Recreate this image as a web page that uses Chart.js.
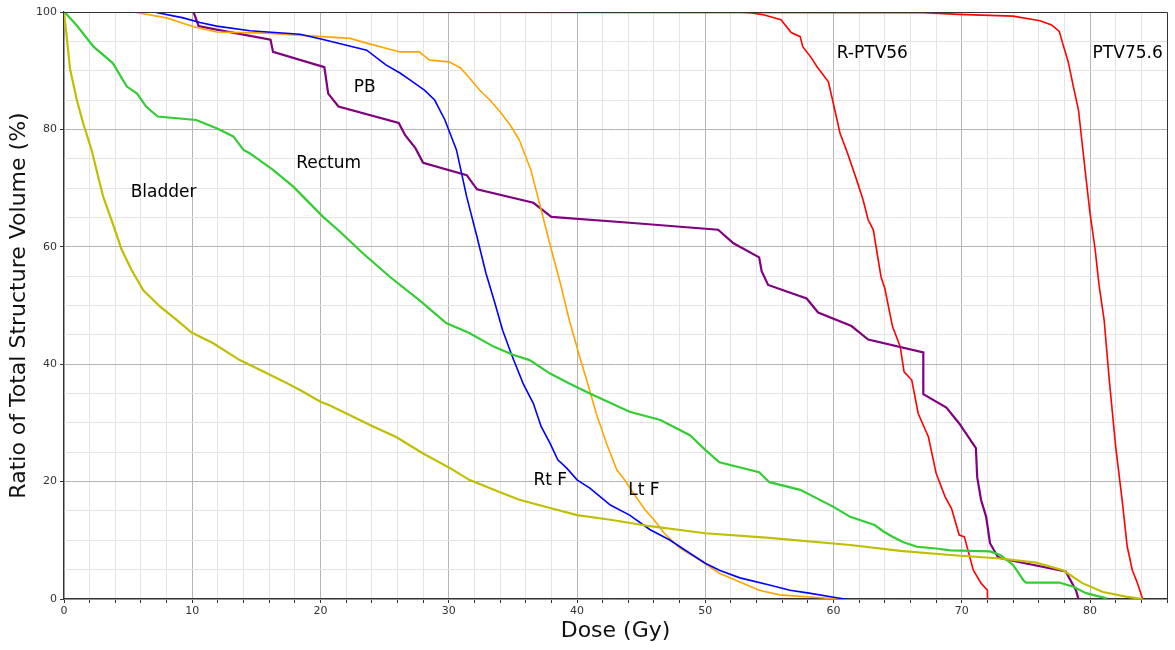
<!DOCTYPE html>
<html>
<head>
<meta charset="utf-8">
<script src="https://cdn.jsdelivr.net/npm/chart.js@4.4.1/dist/chart.umd.min.js"></script>
<style>
  body { margin: 0; background: #fff; }
  #wrap { width: 1175px; height: 650px; position: relative; }
</style>
</head>
<body>
<div id="wrap"><canvas id="dvh"></canvas></div>
<script>
// dose (Gy) / volume (%)
const bladderDose = [0, 0.2, 0.47, 1.0, 1.5, 2.15, 3.06, 3.7, 4.5, 5.28, 6.18, 7.5, 8.8, 9.95, 11.6, 13.7, 15.3, 17.0, 18.4, 20.0, 20.7, 22.3, 24.1, 25.9, 28.0, 30.1, 31.6, 34.0, 35.5, 37.9, 40.0, 42.6, 45.7, 50.0, 55.0, 61.3, 65.2, 69.1, 73.0, 75.8, 77.9, 79.4, 81.0, 82.8, 84.1];
const bladderVol  = [100, 96, 90.3, 85, 81, 76.5, 68.5, 64.6, 59.5, 56, 52.6, 49.8, 47.5, 45.4, 43.6, 40.7, 39, 37.2, 35.6, 33.6, 33, 31.3, 29.4, 27.6, 24.8, 22.3, 20.3, 18.2, 16.9, 15.5, 14.3, 13.5, 12.4, 11.2, 10.4, 9.2, 8.2, 7.5, 6.9, 6.2, 4.9, 2.7, 1.2, 0.4, 0];

const rectumDose = [0, 0.2, 1.0, 2.3, 3.8, 4.9, 5.7, 6.4, 7.3, 10.3, 11.9, 13.2, 14.0, 14.5, 16.3, 17.9, 20.2, 21.5, 23.3, 25.4, 27.7, 29.8, 31.6, 33.5, 35.0, 36.3, 37.9, 39.4, 41.0, 44.1, 46.5, 48.8, 50.0, 51.1, 54.2, 55.0, 57.4, 60.0, 61.3, 63.2, 63.9, 64.6, 65.4, 66.5, 68.0, 69.1, 72.2, 73.0, 74.0, 74.8, 75.0, 77.6, 78.7, 79.7, 81.3];
const rectumVol  = [100, 99.6, 97.7, 94.1, 91.3, 87.3, 86.1, 83.9, 82.2, 81.6, 80.2, 78.8, 76.5, 75.9, 73.1, 70.2, 65.1, 62.6, 58.9, 54.9, 50.9, 47, 45.3, 43, 41.6, 40.7, 38.4, 36.7, 35, 31.9, 30.5, 27.9, 25.4, 23.3, 21.6, 19.9, 18.6, 15.7, 14.0, 12.6, 11.5, 10.6, 9.7, 8.9, 8.6, 8.3, 8.1, 7.5, 5.8, 3.2, 2.8, 2.8, 2.1, 1.0, 0.1];

const rtFDose = [0, 7.0, 9.3, 10.6, 11.9, 14.5, 18.4, 20.2, 23.6, 25.1, 26.2, 27.0, 28.1, 28.9, 29.7, 30.6, 31.4, 32.2, 32.9, 33.6, 34.2, 34.9, 35.8, 36.6, 37.2, 37.9, 38.5, 39.2, 40.0, 41.0, 42.6, 44.1, 45.7, 47.2, 48.8, 50.0, 51.1, 52.7, 55.0, 56.6, 58.1, 60.0, 60.9];
const rtFVol  = [100, 100, 99, 98.2, 97.6, 96.8, 96.2, 95.3, 93.5, 91, 89.6, 88.4, 86.7, 85, 81.6, 76.5, 68.5, 61.7, 55.5, 50.4, 45.8, 41.6, 36.7, 33.3, 29.4, 26.5, 23.7, 22.3, 20.3, 18.9, 16, 14.3, 11.8, 10.1, 7.8, 6.1, 4.9, 3.6, 2.4, 1.5, 1.0, 0.3, 0];

const ltFDose = [0, 5.4, 8.0, 10.1, 11.9, 15.8, 22.3, 23.6, 26.2, 27.7, 28.5, 30.0, 30.9, 31.6, 32.4, 33.2, 34.0, 34.8, 35.5, 35.8, 36.4, 37.2, 38.0, 38.7, 39.4, 40.2, 40.9, 41.5, 42.3, 43.1, 43.7, 44.5, 45.3, 46.0, 46.8, 48.0, 49.6, 51.1, 52.7, 54.2, 55.8, 59.0, 60.5];
const ltFVol  = [100, 100, 99, 97.5, 96.6, 96.4, 95.5, 94.7, 93.2, 93.2, 91.8, 91.5, 90.5, 88.8, 86.7, 85, 83, 80.7, 78.2, 76.5, 73.1, 66.3, 59.5, 53.8, 47.5, 41.3, 36.2, 31.6, 26.5, 22, 20.3, 17.7, 15.2, 13.5, 11.2, 8.7, 6.6, 4.4, 2.9, 1.5, 0.7, 0.2, 0];

const pbDose = [0, 10.1, 10.5, 11.9, 16.1, 16.3, 20.3, 20.6, 21.4, 26.1, 26.6, 27.4, 28.0, 31.4, 32.2, 36.6, 38.0, 44.1, 51.0, 52.2, 54.2, 54.4, 54.9, 57.9, 58.8, 61.4, 62.7, 67.0, 67.0, 68.8, 69.8, 71.1, 71.2, 71.5, 71.9, 72.2, 72.8, 73.1, 78.1, 78.9, 79.1];
const pbVol  = [100, 100, 97.6, 97, 95.3, 93.2, 90.6, 86.1, 83.9, 81.1, 79, 76.8, 74.3, 72.2, 69.8, 67.5, 65.1, 64.1, 62.9, 60.6, 58.2, 55.8, 53.5, 51.2, 48.8, 46.5, 44.2, 42.0, 34.9, 32.6, 29.9, 25.7, 20.8, 16.9, 14, 9.5, 7.2, 6.9, 4.7, 1.5, 0];

const rPtv56Dose = [0, 52.5, 53.5, 54.6, 55.9, 56.7, 57.4, 57.6, 58.3, 58.7, 59.6, 60.1, 60.5, 61.1, 61.8, 62.3, 62.7, 63.1, 63.7, 64.0, 64.6, 65.2, 65.5, 66.1, 66.6, 67.4, 68.0, 68.7, 69.2, 69.8, 70.2, 70.9, 71.5, 72.0, 72.0];
const rPtv56Vol  = [100, 100, 99.9, 99.5, 98.7, 96.5, 95.8, 94.1, 92.1, 90.7, 88.1, 83.3, 79.4, 75.9, 71.4, 68, 64.6, 62.9, 54.9, 52.9, 46.4, 43, 38.7, 37.3, 31.6, 27.6, 21.4, 17.4, 15.4, 10.9, 10.6, 4.9, 2.7, 1.5, 0];

const ptv756Dose = [0, 67.0, 69.8, 74.0, 76.1, 77.0, 77.6, 77.9, 78.3, 78.7, 79.1, 79.3, 79.7, 80.0, 80.4, 80.7, 81.1, 81.5, 82.0, 82.5, 82.9, 83.3, 83.7, 84.1];
const ptv756Vol  = [100, 99.9, 99.6, 99.3, 98.5, 97.8, 96.7, 94.4, 91.5, 87.3, 83.3, 79.3, 71.4, 65.7, 59.5, 53.5, 47.5, 37.3, 25.9, 16.9, 8.9, 4.9, 2.7, 0];

const structureNames  = ['Bladder', 'Rectum', 'Rt F', 'Lt F', 'PB', 'R-PTV56', 'PTV75.6'];
const structureColors = ['#bfbf00', '#32cd32', '#0000ff', '#ffa500', '#800080', '#ff0000', '#ff0000'];
const structureWidths = [2.2, 2.2, 1.6, 1.6, 2.2, 1.6, 1.6];
const structureDose   = [bladderDose, rectumDose, rtFDose, ltFDose, pbDose, rPtv56Dose, ptv756Dose];
const structureVol    = [bladderVol, rectumVol, rtFVol, ltFVol, pbVol, rPtv56Vol, ptv756Vol];

// label anchor points, in data units (left edge, vertical centre)
const labelText = ['R-PTV56', 'PTV75.6', 'PB', 'Rectum', 'Bladder', 'Rt F', 'Lt F'];
const labelDose = [60.25, 80.2, 22.6, 18.1, 5.2, 36.6, 44.0];
const labelVol  = [92.9, 92.9, 87.1, 74.1, 69.2, 20.1, 18.4];

const FONT = '"DejaVu Sans", Verdana, sans-serif';

const datasets = structureNames.map(function (name, i) {
  return {
    label: name,
    data: structureDose[i].map(function (d, j) { return { x: d, y: structureVol[i][j] }; }),
    borderColor: structureColors[i],
    borderWidth: structureWidths[i],
    pointRadius: 0,
    tension: 0,
    fill: false
  };
});

const textLayer = {
  id: 'textLayer',
  afterDraw: function (chart) {
    const ctx = chart.ctx;
    const xs = chart.scales.x, ys = chart.scales.y, a = chart.chartArea;
    ctx.save();
    // frame on top and right
    ctx.strokeStyle = '#333';
    ctx.lineWidth = 1;
    ctx.beginPath();
    ctx.moveTo(a.left, a.top + 0.5);
    ctx.lineTo(a.right + 0.5, a.top + 0.5);
    ctx.lineTo(a.right + 0.5, a.bottom);
    ctx.stroke();

    ctx.fillStyle = '#000';
    ctx.font = '17px ' + FONT;
    ctx.textAlign = 'left';
    ctx.textBaseline = 'middle';
    for (let i = 0; i < labelText.length; i++) {
      ctx.fillText(labelText[i], xs.getPixelForValue(labelDose[i]), ys.getPixelForValue(labelVol[i]));
    }

    ctx.fillStyle = '#111';
    ctx.font = '22px ' + FONT;
    ctx.textAlign = 'center';
    ctx.fillText('Dose (Gy)', (a.left + a.right) / 2, 631);
    ctx.translate(19, (a.top + a.bottom) / 2);
    ctx.rotate(-Math.PI / 2);
    ctx.fillText('Ratio of Total Structure Volume (%)', 0, 0);
    ctx.restore();
  }
};

new Chart(document.getElementById('dvh'), {
  type: 'line',
  data: { datasets: datasets },
  plugins: [textLayer],
  options: {
    responsive: true,
    maintainAspectRatio: false,
    animation: false,
    layout: { padding: { top: 12, right: 8, left: 0, bottom: 0 } },
    plugins: { legend: { display: false }, tooltip: { enabled: false } },
    scales: {
      x: {
        type: 'linear',
        min: 0,
        max: 86,
        afterFit: function (s) { s.height = 51; },
        ticks: {
          stepSize: 2,
          autoSkip: false,
          maxRotation: 0,
          padding: 2,
          color: '#333',
          font: { family: FONT, size: 11 },
          callback: function (v) { return v % 10 === 0 ? v : ''; }
        },
        grid: {
          color: function (c) { return c.tick && c.tick.value % 10 === 0 ? '#b4b4b4' : '#e4e4e4'; },
          tickColor: '#333',
          tickLength: 4,
          lineWidth: 1
        },
        border: { color: '#333', width: 1.2 }
      },
      y: {
        min: 0,
        max: 100,
        afterFit: function (s) { s.width = 64; },
        ticks: {
          stepSize: 5,
          autoSkip: false,
          padding: 3,
          color: '#333',
          font: { family: FONT, size: 11 },
          callback: function (v) { return v % 20 === 0 ? v : ''; }
        },
        grid: {
          color: function (c) { return c.tick && c.tick.value % 20 === 0 ? '#b4b4b4' : '#e4e4e4'; },
          tickColor: function (c) { return c.tick && c.tick.value % 20 === 0 ? '#333' : 'rgba(0,0,0,0)'; },
          tickLength: 4,
          lineWidth: 1
        },
        border: { color: '#333', width: 1.2 }
      }
    }
  }
});
</script>
</body>
</html>
